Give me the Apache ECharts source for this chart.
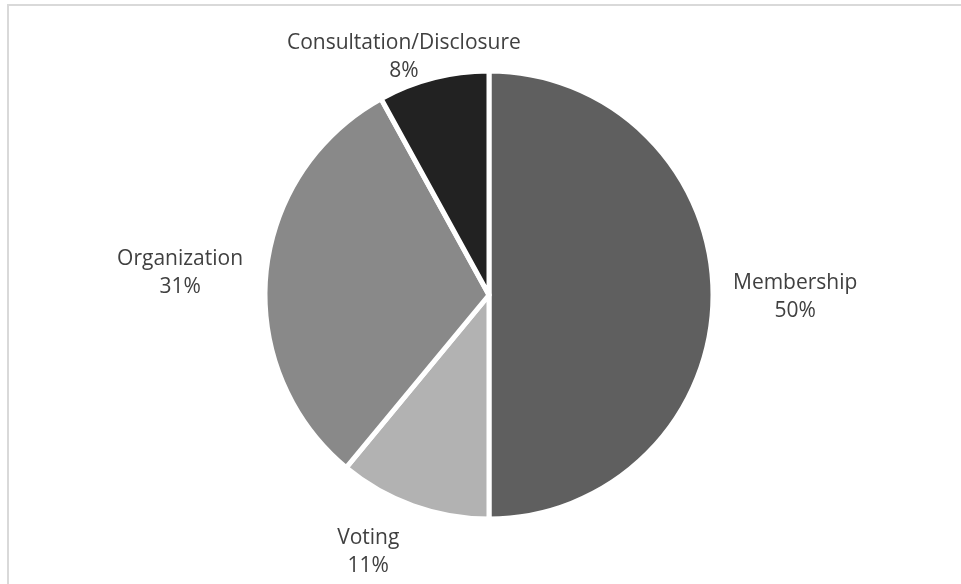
<!DOCTYPE html>
<html>
<head>
<meta charset="utf-8">
<script src="https://cdn.jsdelivr.net/npm/echarts@6/dist/echarts.min.js"></script>
<style>
  html, body { margin: 0; padding: 0; background: #fff; }
  #chart { width: 961px; height: 584px; }
</style>
</head>
<body>
<div id="chart"></div>
<script>
// Share of provisions by category
const categories = ['Membership', 'Voting', 'Organization', 'Consultation/Disclosure'];
const shares = [50, 11, 31, 8];
const sliceColors = ['#5f5f5f', '#b2b2b2', '#898989', '#222222'];

// Fine offsets applied to each outside label after the library has placed it
const labelNudge = [[1, 2], [-4, 33], [-4, 0], [96, -7]];

const chart = echarts.init(document.getElementById('chart'));

chart.setOption({
  animation: false,
  backgroundColor: '#ffffff',
  graphic: [
    { type: 'line', shape: { x1: 7, y1: 5, x2: 961, y2: 5 }, style: { stroke: '#d9d9d9', lineWidth: 2 } },
    { type: 'line', shape: { x1: 8, y1: 4, x2: 8, y2: 584 }, style: { stroke: '#d9d9d9', lineWidth: 2 } }
  ],
  series: [{
    type: 'pie',
    center: [489, 295],
    radius: 224,
    startAngle: 90,
    clockwise: true,
    data: categories.map((name, i) => ({
      name: name,
      value: shares[i],
      itemStyle: { color: sliceColors[i] }
    })),
    itemStyle: { borderColor: '#ffffff', borderWidth: 5 },
    label: {
      show: true,
      position: 'outside',
      formatter: '{b}\n{c}%',
      color: '#404040',
      fontFamily: 'Open Sans',
      fontSize: 21,
      lineHeight: 28
    },
    labelLine: { show: false, length: 14, length2: 0 },
    labelLayout: function (params) {
      const r = params.labelRect;
      const n = labelNudge[params.dataIndex];
      return {
        x: r.x + r.width / 2 + n[0],
        y: r.y + r.height / 2 + n[1],
        align: 'center',
        verticalAlign: 'middle'
      };
    },
    emphasis: { disabled: true }
  }]
});
</script>
</body>
</html>
